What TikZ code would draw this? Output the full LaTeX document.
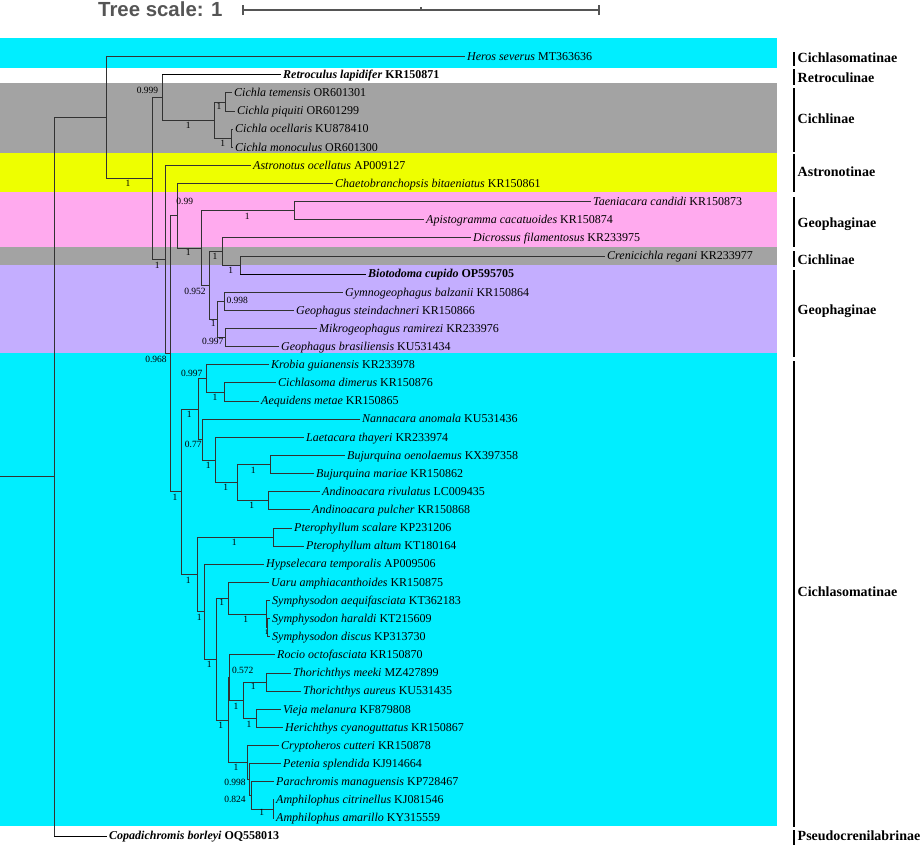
\documentclass[tikz,border=0pt]{standalone}
\usepackage{fontspec}
\setmainfont{Liberation Serif}
\newfontfamily\tsfont{Liberation Sans}
\usetikzlibrary{calc}
\definecolor{bcyan}{RGB}{0,238,255}
\definecolor{bgray}{RGB}{163,163,163}
\definecolor{byellow}{RGB}{238,255,0}
\definecolor{bpink}{RGB}{255,170,238}
\definecolor{bpurple}{RGB}{196,174,255}
\definecolor{linec}{RGB}{50,50,50}
\definecolor{scalegray}{RGB}{85,85,85}
\begin{document}
\begin{tikzpicture}[x=1pt,y=-1pt,
  leaf/.style={anchor=west, inner xsep=2.5pt, inner ysep=0pt, text height=7.4pt, text depth=0pt, font=\fontsize{12}{12}\selectfont},
  sup/.style={inner sep=0pt, text height=6.3pt, text depth=0pt, anchor=center, font=\fontsize{9.5}{9.5}\selectfont},
  clade/.style={anchor=west, inner sep=0pt, text height=9.2pt, text depth=0pt, font=\fontsize{14}{14}\selectfont\bfseries},
  br/.style={draw=linec, line width=0.95pt},
  brb/.style={draw=black, line width=1.25pt},
  cladebar/.style={draw=black, line width=1.5pt},
  scalebar/.style={draw=scalegray, line width=2pt}]
\useasboundingbox (0,0) rectangle (920,847);
% background bands
\fill[bcyan] (0,37.7) rectangle (777,67.7);
\fill[bgray] (0,83.3) rectangle (777,153.3);
\fill[byellow] (0,153.3) rectangle (777,191.7);
\fill[bpink] (0,191.7) rectangle (777,246.7);
\fill[bgray] (0,246.7) rectangle (777,265);
\fill[bpurple] (0,265) rectangle (777,353.3);
\fill[bcyan] (0,353.3) rectangle (777,825.5);
% tree scale
\node[anchor=west, inner sep=0pt, text height=14.6pt, text depth=0pt, text=scalegray, font={\tsfont\bfseries\fontsize{20.4}{22}\selectfont}] (ts) at (98,9.4) {Tree scale: 1};
\coordinate (sb1) at (243,10);
\coordinate (sb2) at (599,10);
\coordinate (sbm) at (421,10);
\draw[scalebar] (sb1) -- (sb2);
\draw[draw=scalegray, line width=1.5pt] ([yshift=-5pt]sb1) -- ([yshift=5pt]sb1);
\draw[draw=scalegray, line width=1.5pt] ([yshift=-5pt]sb2) -- ([yshift=5pt]sb2);
\draw[draw=scalegray, line width=1.5pt] (sbm) -- ([yshift=3.5pt]sbm);
% leaves
\node[leaf] (L0) at (464.5,56.6) {\textit{Heros severus} MT363636};
\node[leaf] (L1) at (280.5,74.7) {\textbf{\textit{Retroculus lapidifer} KR150871}};
\node[leaf] (L2) at (231.5,92.9) {\textit{Cichla temensis} OR601301};
\node[leaf] (L3) at (234.5,111.0) {\textit{Cichla piquiti} OR601299};
\node[leaf] (L4) at (232.5,129.1) {\textit{Cichla ocellaris} KU878410};
\node[leaf] (L5) at (232.5,147.3) {\textit{Cichla monoculus} OR601300};
\node[leaf] (L6) at (250.5,165.4) {\textit{Astronotus ocellatus} AP009127};
\node[leaf] (L7) at (332.5,183.5) {\textit{Chaetobranchopsis bitaeniatus} KR150861};
\node[leaf] (L8) at (590.5,201.6) {\textit{Taeniacara candidi} KR150873};
\node[leaf] (L9) at (423.5,219.8) {\textit{Apistogramma cacatuoides} KR150874};
\node[leaf] (L10) at (470.5,237.9) {\textit{Dicrossus filamentosus} KR233975};
\node[leaf] (L11) at (604.5,256.0) {\textit{Crenicichla regani} KR233977};
\node[leaf] (L12) at (365.5,274.2) {\textbf{\textit{Biotodoma cupido} OP595705}};
\node[leaf] (L13) at (342.5,292.3) {\textit{Gymnogeophagus balzanii} KR150864};
\node[leaf] (L14) at (293.5,310.4) {\textit{Geophagus steindachneri} KR150866};
\node[leaf] (L15) at (316.5,328.6) {\textit{Mikrogeophagus ramirezi} KR233976};
\node[leaf] (L16) at (278.5,346.7) {\textit{Geophagus brasiliensis} KU531434};
\node[leaf] (L17) at (268.5,364.8) {\textit{Krobia guianensis} KR233978};
\node[leaf] (L18) at (275.5,382.9) {\textit{Cichlasoma dimerus} KR150876};
\node[leaf] (L19) at (258.5,401.1) {\textit{Aequidens metae} KR150865};
\node[leaf] (L20) at (359.5,419.2) {\textit{Nannacara anomala} KU531436};
\node[leaf] (L21) at (303.5,437.3) {\textit{Laetacara thayeri} KR233974};
\node[leaf] (L22) at (344.5,455.5) {\textit{Bujurquina oenolaemus} KX397358};
\node[leaf] (L23) at (313.5,473.6) {\textit{Bujurquina mariae} KR150862};
\node[leaf] (L24) at (319.5,491.7) {\textit{Andinoacara rivulatus} LC009435};
\node[leaf] (L25) at (309.5,509.9) {\textit{Andinoacara pulcher} KR150868};
\node[leaf] (L26) at (291.5,528.0) {\textit{Pterophyllum scalare} KP231206};
\node[leaf] (L27) at (303.5,546.1) {\textit{Pterophyllum altum} KT180164};
\node[leaf] (L28) at (263.5,564.2) {\textit{Hypselecara temporalis} AP009506};
\node[leaf] (L29) at (268.5,582.4) {\textit{Uaru amphiacanthoides} KR150875};
\node[leaf] (L30) at (269.5,600.5) {\textit{Symphysodon aequifasciata} KT362183};
\node[leaf] (L31) at (269.5,618.6) {\textit{Symphysodon haraldi} KT215609};
\node[leaf] (L32) at (269.5,636.8) {\textit{Symphysodon discus} KP313730};
\node[leaf] (L33) at (274.5,654.9) {\textit{Rocio octofasciata} KR150870};
\node[leaf] (L34) at (290.5,673.0) {\textit{Thorichthys meeki} MZ427899};
\node[leaf] (L35) at (300.5,691.2) {\textit{Thorichthys aureus} KU531435};
\node[leaf] (L36) at (280.5,709.3) {\textit{Vieja melanura} KF879808};
\node[leaf] (L37) at (282.5,727.4) {\textit{Herichthys cyanoguttatus} KR150867};
\node[leaf] (L38) at (278.5,745.5) {\textit{Cryptoheros cutteri} KR150878};
\node[leaf] (L39) at (280.5,763.7) {\textit{Petenia splendida} KJ914664};
\node[leaf] (L40) at (273.5,781.8) {\textit{Parachromis managuensis} KP728467};
\node[leaf] (L41) at (273.5,799.9) {\textit{Amphilophus citrinellus} KJ081546};
\node[leaf] (L42) at (273.5,818.1) {\textit{Amphilophus amarillo} KY315559};
\node[leaf] (L43) at (106.5,836.2) {\textbf{\textit{Copadichromis borleyi} OQ558013}};
% internal nodes
\coordinate (stem) at (0,476.9);
\coordinate (root) at (54,476.9);
\coordinate (B) at (106,117.6);
\coordinate (C) at (152,178.5);
\coordinate (D) at (162,97.4);
\coordinate (F) at (214,120.1);
\coordinate (G) at (225,102.0);
\coordinate (H) at (231,138.2);
\coordinate (E) at (165,259.6);
\coordinate (I) at (170,353.8);
\coordinate (J) at (177,215.8);
\coordinate (L) at (201,248.1);
\coordinate (M) at (294,210.7);
\coordinate (N) at (209,285.5);
\coordinate (O) at (222,251.5);
\coordinate (Q) at (240,265.1);
\coordinate (P) at (217,319.5);
\coordinate (P1) at (224,301.4);
\coordinate (P2) at (225,337.7);
\coordinate (K) at (181,491.7);
\coordinate (R) at (198,409.0);
\coordinate (S) at (206,378.4);
\coordinate (T) at (224,392.0);
\coordinate (U) at (202,439.6);
\coordinate (V) at (215,460.0);
\coordinate (W) at (237,482.7);
\coordinate (X) at (270,464.6);
\coordinate (Y) at (268,500.8);
\coordinate (Z) at (197,574.4);
\coordinate (Pt) at (273,537.1);
\coordinate (AA) at (204,611.7);
\coordinate (AB) at (216,659.2);
\coordinate (AC) at (228,598.3);
\coordinate (AD) at (266,614.1);
\coordinate (AE) at (267,627.7);
\coordinate (AI) at (228,720.1);
\coordinate (AH) at (229.5,677.6);
\coordinate (AG) at (243,700.2);
\coordinate (Th) at (266,682.1);
\coordinate (VH) at (256,718.4);
\coordinate (AJ) at (247,762.6);
\coordinate (AK) at (249,779.6);
\coordinate (AL) at (251,795.4);
\coordinate (AM) at (273,809.0);
% branches between internal nodes
\draw[br] (stem) -- (root);
\foreach \p/\c in {root/B, B/C, C/D, C/E, D/F, F/G, F/H, E/I, I/J, I/K, J/L, L/M, L/N, N/O, N/P, O/Q, P/P1, P/P2,
  K/R, K/Z, R/S, R/U, S/T, U/V, V/W, W/X, W/Y, Z/Pt, Z/AA, AA/AB, AB/AC, AB/AI, AC/AD, AD/AE,
  AI/AH, AI/AJ, AH/AG, AG/Th, AG/VH, AJ/AK, AK/AL, AL/AM}
  \draw[br] (\p) |- (\c);
% branches to leaves
\foreach \p/\c in {B/L0, D/L1, G/L2, G/L3, H/L4, H/L5, E/L6, J/L7, M/L8, M/L9, O/L10, Q/L11, Q/L12,
  P1/L13, P1/L14, P2/L15, P2/L16, S/L17, T/L18, T/L19, U/L20, V/L21, X/L22, X/L23, Y/L24, Y/L25,
  Pt/L26, Pt/L27, AA/L28, AC/L29, AD/L30, AE/L31, AE/L32, AH/L33, Th/L34, Th/L35, VH/L36, VH/L37,
  AJ/L38, AK/L39, AL/L40, AM/L41, AM/L42, root/L43}
  \draw[br] (\p) |- (\c.west);
\draw[brb] (D |- L1.west) -- (L1.west);
\draw[brb] (Q |- L12.west) -- (L12.west);
\draw[brb] (root |- L43.west) -- (L43.west);
% support values
\node[sup] (sC) at (128,183) {1};
\node[sup] (sD) at (147.5,90) {0.999};
\node[sup] (sF) at (188.3,125.7) {1};
\node[sup] (sG) at (219,106.7) {1};
\node[sup] (sH) at (222.7,143.3) {1};
\node[sup] (sE) at (157.3,265) {1};
\node[sup] (sI) at (156,359.3) {0.968};
\node[sup] (sJ) at (184.7,201) {0.99};
\node[sup] (sL) at (188.3,252.7) {1};
\node[sup] (sM) at (247.3,216.7) {1};
\node[sup] (sN) at (195,291.7) {0.952};
\node[sup] (sO) at (215,256.7) {1};
\node[sup] (sQ) at (230.7,270) {1};
\node[sup] (sP) at (213.3,323.3) {1};
\node[sup] (sP1) at (237.3,300) {0.998};
\node[sup] (sP2) at (212.7,341.7) {0.997};
\node[sup] (sK) at (175,497) {1};
\node[sup] (sR) at (189.3,414) {1};
\node[sup] (sS) at (191.7,373.3) {0.997};
\node[sup] (sT) at (215,397.3) {1};
\node[sup] (sU) at (193.3,444) {0.77};
\node[sup] (sV) at (208.3,465) {1};
\node[sup] (sW) at (225.7,487.3) {1};
\node[sup] (sX) at (253.3,470) {1};
\node[sup] (sY) at (251.7,505.7) {1};
\node[sup] (sZ) at (188.3,580) {1};
\node[sup] (sPt) at (234.3,542.7) {1};
\node[sup] (sAA) at (199.3,617.3) {1};
\node[sup] (sAB) at (209.3,664.3) {1};
\node[sup] (sAC) at (221.7,602.7) {1};
\node[sup] (sAD) at (245.7,619.3) {1};
\node[sup, font=\fontsize{7}{7}\selectfont] (sAE) at (266.5,631) {1};
\node[sup] (sAH) at (242.7,670) {0.572};
\node[sup] (sTh) at (253.3,686) {1};
\node[sup] (sAG) at (236,706) {1};
\node[sup] (sVH) at (249,724) {1};
\node[sup] (sAI) at (220.7,725) {1};
\node[sup] (sAJ) at (236,767.7) {1};
\node[sup] (sAK) at (235,782.7) {0.998};
\node[sup] (sAL) at (235,799.3) {0.824};
\node[sup] (sAM) at (261.7,812.7) {1};
% clade bars and labels
\foreach \a/\b/\m/\t [count=\i] in {52/66/57.5/Cichlasomatinae, 69/85/78/Retroculinae, 88/152/118.5/Cichlinae,
  154/192/172/Astronotinae, 197/247/223/Geophaginae, 251/267/260/Cichlinae, 270/357/310/Geophaginae,
  361/827/592/Cichlasomatinae, 830/845/836/Pseudocrenilabrinae}{
  \coordinate (bt\i) at (794,\a);
  \coordinate (bb\i) at (794,\b);
  \draw[cladebar] (bt\i) -- (bb\i);
  \node[clade] (cl\i) at (797.5,\m) {\t};
}
\end{tikzpicture}
\end{document}
